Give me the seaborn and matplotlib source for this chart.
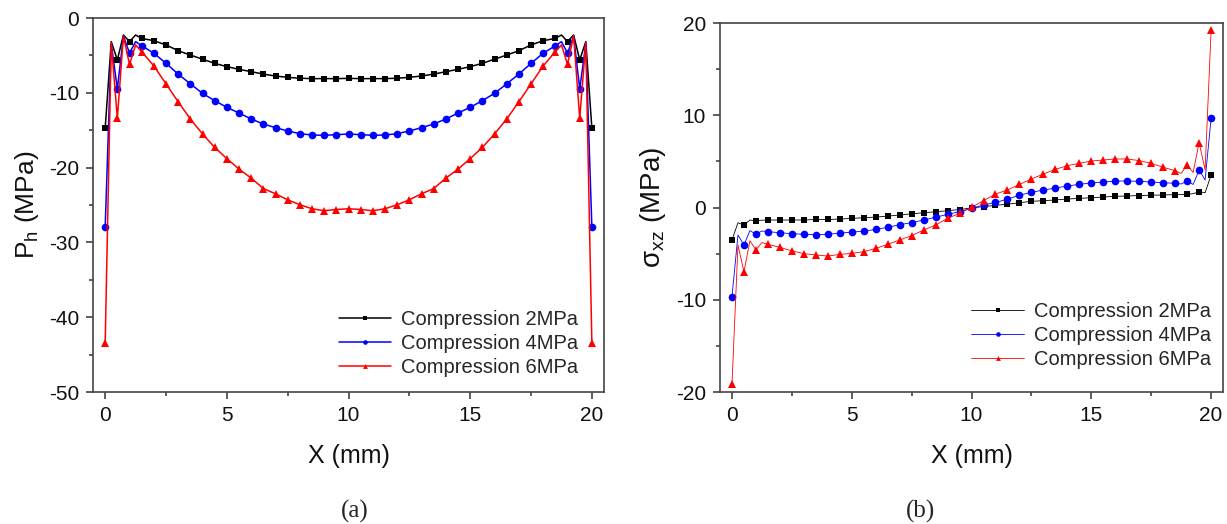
import numpy as np
import seaborn as sns
from matplotlib import pyplot as plt
from matplotlib.ticker import MultipleLocator

# x positions (mm); the dense spacing at the edges carries line vertices without markers
x_mm = [0, 0.25, 0.5, 0.75, 1, 1.25, 1.5, 2, 2.5, 3, 3.5, 4, 4.5, 5, 5.5, 6,
        6.5, 7, 7.5, 8, 8.5, 9, 9.5, 10, 10.5, 11, 11.5, 12, 12.5, 13, 13.5,
        14, 14.5, 15, 15.5, 16, 16.5, 17, 17.5, 18, 18.5, 18.75, 19, 19.25,
        19.5, 19.75, 20]

labels = ["Compression 2MPa", "Compression 4MPa", "Compression 6MPa"]

# (a) hydrostatic pressure P_h (MPa)
ph_2mpa = [-14.75, -3.16, -5.6, -2.27, -3.16, -2.27, -2.72, -3.03, -3.6, -4.37,
           -4.95, -5.5, -6.06, -6.5, -6.86, -7.17, -7.5, -7.75, -7.93, -8.05,
           -8.1, -8.1, -8.1, -8.07, -8.1, -8.1, -8.1, -8.05, -7.93, -7.75,
           -7.5, -7.17, -6.86, -6.5, -6.06, -5.5, -4.95, -4.37, -3.6, -3.03,
           -2.72, -2.27, -3.16, -2.27, -5.6, -3.16, -14.75]
ph_4mpa = [-28.0, -3.4, -9.5, -2.4, -4.7, -3.16, -3.7, -4.7, -6.06, -7.49,
           -8.8, -10.07, -11.05, -11.94, -12.7, -13.5, -14.17, -14.66, -15.1,
           -15.46, -15.64, -15.68, -15.6, -15.5, -15.6, -15.68, -15.64, -15.46,
           -15.1, -14.66, -14.17, -13.5, -12.7, -11.94, -11.05, -10.07, -8.8,
           -7.49, -6.06, -4.7, -3.7, -3.16, -4.7, -2.4, -9.5, -3.4, -28.0]
ph_6mpa = [-43.5, -3.3, -13.4, -2.4, -6.2, -3.6, -4.5, -6.4, -8.8, -11.2,
           -13.5, -15.5, -17.3, -18.8, -20.2, -21.4, -22.8, -23.5, -24.3,
           -24.96, -25.5, -25.76, -25.6, -25.5, -25.6, -25.76, -25.5, -24.96,
           -24.3, -23.5, -22.8, -21.4, -20.2, -18.8, -17.3, -15.5, -13.5,
           -11.2, -8.8, -6.4, -4.5, -3.6, -6.2, -2.4, -13.4, -3.3, -43.5]

# (b) shear stress sigma_xz (MPa)
sxz_2mpa = [-3.52, -1.65, -1.9, -1.36, -1.43, -1.38, -1.36, -1.36, -1.36, -1.35,
            -1.3, -1.3, -1.25, -1.18, -1.11, -1.04, -0.93, -0.82, -0.68, -0.57,
            -0.46, -0.35, -0.22, -0.05, 0.1, 0.23, 0.36, 0.52, 0.67, 0.74,
            0.82, 0.92, 0.99, 1.06, 1.14, 1.21, 1.25, 1.3, 1.33, 1.36, 1.39,
            1.4, 1.43, 1.5, 1.71, 1.6, 3.52]
sxz_4mpa = [-9.67, -2.98, -4.07, -2.5, -2.9, -2.55, -2.62, -2.73, -2.84, -2.9,
            -2.95, -2.9, -2.78, -2.67, -2.56, -2.38, -2.15, -1.86, -1.64, -1.36,
            -1.06, -0.74, -0.45, -0.09, 0.27, 0.55, 0.9, 1.34, 1.64, 1.9, 2.11,
            2.33, 2.51, 2.66, 2.76, 2.87, 2.87, 2.84, 2.76, 2.69, 2.62, 2.55,
            2.87, 2.5, 4.07, 2.98, 9.67]
sxz_6mpa = [-19.17, -4.07, -6.96, -3.6, -4.6, -3.8, -3.99, -4.32, -4.7, -5.0,
            -5.15, -5.26, -5.08, -4.97, -4.79, -4.43, -4.0, -3.52, -3.05, -2.44,
            -1.9, -1.17, -0.63, 0.02, 0.74, 1.46, 1.9, 2.5, 3.09, 3.63, 4.14,
            4.53, 4.79, 5.04, 5.15, 5.26, 5.26, 5.08, 4.79, 4.36, 3.99, 3.7,
            4.6, 3.8, 7.03, 4.07, 19.24]

sns.set_style("ticks")
plt.rcParams["font.family"] = ["Liberation Sans", "DejaVu Sans"]
plt.rcParams["mathtext.fontset"] = "custom"
plt.rcParams["mathtext.rm"] = "Liberation Sans"
plt.rcParams["mathtext.it"] = "Liberation Sans"
plt.rcParams["axes.unicode_minus"] = False

colors = ["black", "blue", "red"]
markers = ["s", "o", "^"]
sizes = [4.6, 5.5, 5.8]
marked = [i for i, v in enumerate(x_mm) if v % 0.5 == 0]

fig = plt.figure(figsize=(12.27, 5.24), dpi=100)
ax_a = fig.add_axes([0.0758, 0.2519, 0.4165, 0.7137])
ax_b = fig.add_axes([0.5868, 0.2519, 0.4100, 0.7042])


def draw(ax, series, lw):
    for y, c, m, ms, lab in zip(series, colors, markers, sizes, labels):
        sns.lineplot(x=x_mm, y=y, ax=ax, color=c, marker=m, markersize=ms,
                     markeredgewidth=0, markevery=marked, linewidth=lw,
                     label=lab, sort=False)


draw(ax_a, [ph_2mpa, ph_4mpa, ph_6mpa], 1.1)
draw(ax_b, [sxz_2mpa, sxz_4mpa, sxz_6mpa], 0.6)

for ax, anchor in ((ax_a, (0.965, 0.019)), (ax_b, (0.992, 0.041))):
    ax.set_xlim(-0.5, 20.5)
    ax.xaxis.set_major_locator(MultipleLocator(5))
    ax.xaxis.set_minor_locator(MultipleLocator(2.5))
    ax.tick_params(which="major", length=5, width=1.1, labelsize=15,
                   color="#333333", labelcolor="#111111", pad=5)
    ax.tick_params(which="minor", length=3, width=1.1, color="#333333")
    for sp in ax.spines.values():
        sp.set_linewidth(1.2)
        sp.set_color("#444444")
    ax.set_xlabel("X (mm)", fontsize=18, labelpad=14, color="#111111")
    ax.legend(loc="lower right", bbox_to_anchor=anchor, borderaxespad=0,
              frameon=False, fontsize=14.5, markerscale=0.6,
              handlelength=2.6, handletextpad=0.5, labelspacing=0.25)

ax_a.set_ylim(-50, 0)
ax_a.yaxis.set_major_locator(MultipleLocator(10))
ax_a.yaxis.set_minor_locator(MultipleLocator(5))
ax_a.set_ylabel(r"$\mathregular{P_h}$ (MPa)", fontsize=19, labelpad=6,
                color="#111111")

ax_b.set_ylim(-20, 20)
ax_b.yaxis.set_major_locator(MultipleLocator(10))
ax_b.yaxis.set_minor_locator(MultipleLocator(5))
ax_b.set_ylabel(r"$\mathregular{\sigma_{xz}}$ (MPa)", fontsize=20, labelpad=6,
                color="#111111")

fig.text(0.2893, 0.012, "(a)", ha="center", fontsize=18,
         family="Liberation Serif")
fig.text(0.7506, 0.012, "(b)", ha="center", fontsize=18,
         family="Liberation Serif")

fig.savefig("out.png", dpi=100)
